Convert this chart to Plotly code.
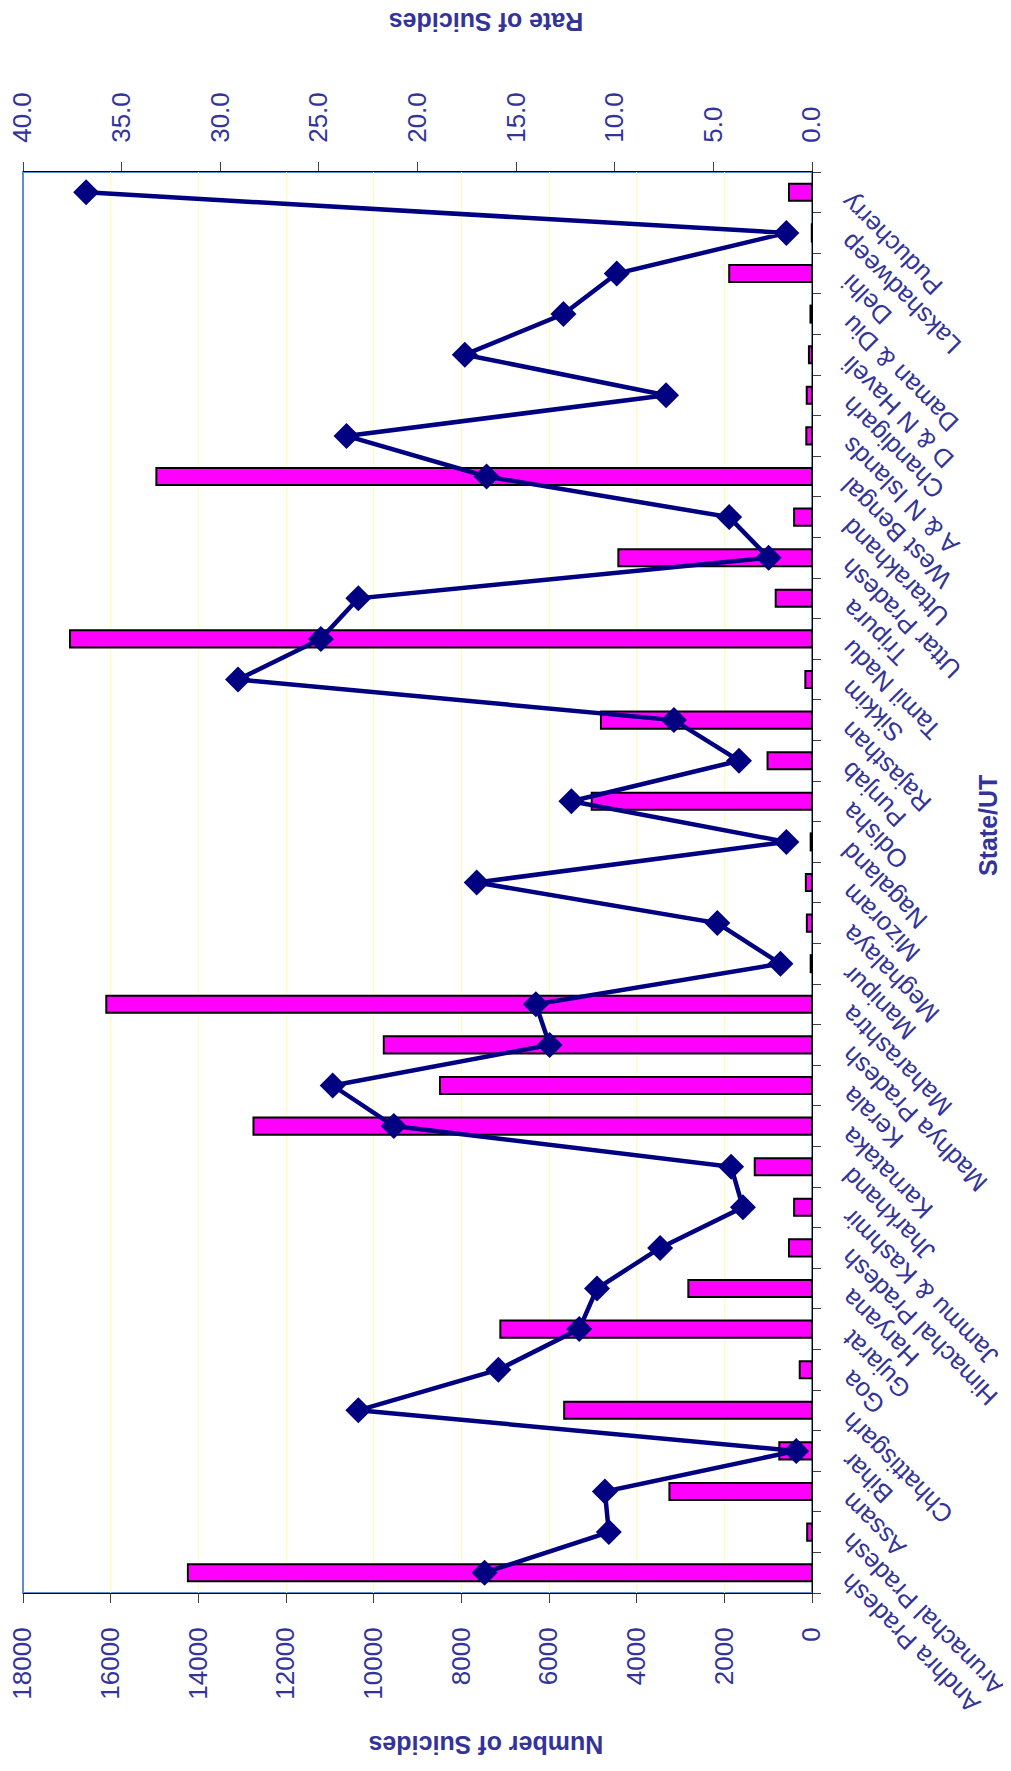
import plotly.graph_objects as go

states = ["Andhra Pradesh", "Arunachal Pradesh", "Assam", "Bihar", "Chhattisgarh", "Goa",
          "Gujarat", "Haryana", "Himachal Pradesh", "Jammu & Kashmir", "Jharkhand", "Karnataka",
          "Kerala", "Madhya Pradesh", "Maharashtra", "Manipur", "Meghalaya", "Mizoram",
          "Nagaland", "Odisha", "Punjab", "Rajasthan", "Sikkim", "Tamil Nadu", "Tripura",
          "Uttar Pradesh", "Uttarakhand", "West Bengal", "A & N Islands", "Chandigarh",
          "D & N Haveli", "Daman & Diu", "Delhi", "Lakshadweep", "Puducherry"]

num_suicides = [14238, 110, 3253, 746, 5654, 280,
                7110, 2821, 525, 408, 1306, 12742,
                8487, 9769, 16100, 30, 117, 140,
                30, 5025, 1014, 4815, 152, 16927, 828,
                4418, 408, 14957, 130, 120,
                70, 35, 1889, 5, 525]

rate_suicides = [16.6, 10.3, 10.5, 0.8, 23.0, 15.9,
                 11.8, 10.9, 7.7, 3.5, 4.1, 21.2,
                 24.3, 13.3, 14.0, 1.6, 4.8, 17.0,
                 1.3, 12.2, 3.7, 7.0, 29.1, 24.9, 23.0,
                 2.2, 4.2, 16.5, 23.6, 7.4,
                 17.6, 12.6, 9.9, 1.3, 36.8]

num_ticks = list(range(0, 18001, 2000))
rate_ticks = [0, 5, 10, 15, 20, 25, 30, 35, 40]

FONT = "Liberation Sans, Arial, sans-serif"
TXT = "#333399"

fig = go.Figure()
fig.add_trace(go.Bar(
    x=num_suicides, y=states, orientation="h",
    marker=dict(color="#FF00FF", line=dict(color="#000000", width=2)),
    xaxis="x", yaxis="y", name="Number of Suicides",
))
fig.add_trace(go.Scatter(
    x=rate_suicides, y=states, mode="lines+markers",
    line=dict(color="#000080", width=4.5),
    marker=dict(symbol="diamond", size=20, color="#000080"),
    xaxis="x2", yaxis="y", name="Rate of Suicides",
))

annotations = []
for s in states:
    annotations.append(dict(
        text=s, xref="paper", x=1, xshift=21, yref="y", y=s, yshift=7,
        xanchor="left", yanchor="top", textangle=-135, showarrow=False,
        font=dict(family=FONT, size=25.5, color=TXT),
    ))
annotations += [
    dict(text="<b>Number of Suicides</b>", xref="paper", x=0.587, yref="paper", y=-0.107,
         xanchor="center", yanchor="middle", textangle=180, showarrow=False,
         font=dict(family=FONT, size=25, color=TXT)),
    dict(text="<b>Rate of Suicides</b>", xref="paper", x=0.587, yref="paper", y=1.106,
         xanchor="center", yanchor="middle", textangle=180, showarrow=False,
         font=dict(family=FONT, size=25, color=TXT)),
    dict(text="<b>State/UT</b>", xref="paper", x=1.202, yref="paper", y=0.54,
         xanchor="left", yanchor="middle", textangle=-90, showarrow=False,
         font=dict(family=FONT, size=25, color=TXT)),
]

# the page body adds an 8px margin, so the figure is 8px smaller on each axis
fig.update_layout(
    width=1003, height=1763,
    margin=dict(l=15, r=199, t=164, b=178, autoexpand=False),
    paper_bgcolor="white", plot_bgcolor="white",
    showlegend=False, bargap=0.58,
    font=dict(family=FONT, color=TXT),
    xaxis=dict(
        range=[18000, 0], tickvals=num_ticks, tickformat="d", tickangle=-90,
        ticks="outside", ticklen=9, tickcolor="#404040", ticklabelstandoff=14,
        ticklabeloverflow="allow",
        showgrid=True, gridcolor="#FFFFA8", gridwidth=1, automargin=False,
        showline=True, linecolor="#000000", linewidth=1, zeroline=False,
        tickfont=dict(family=FONT, size=26, color=TXT), anchor="y",
    ),
    xaxis2=dict(
        range=[40, 0], tickvals=rate_ticks, tickformat=".1f", tickangle=-90,
        overlaying="x", side="top", anchor="y", automargin=False,
        ticks="outside", ticklen=9, tickcolor="#404040", ticklabelstandoff=14,
        ticklabeloverflow="allow",
        showgrid=False, showline=True, linecolor="#000000", linewidth=1, zeroline=False,
        tickfont=dict(family=FONT, size=26, color=TXT),
    ),
    yaxis=dict(
        type="category", categoryorder="array", categoryarray=states,
        range=[-0.5, len(states) - 0.5], side="right", automargin=False,
        showticklabels=False, ticks="outside", tickson="boundaries", ticklen=8,
        tickcolor="#404040", showline=True, linecolor="#000000", linewidth=1,
        showgrid=False, zeroline=False,
    ),
    shapes=[dict(type="rect", xref="paper", yref="paper", x0=0, x1=1, y0=0, y1=1,
                 line=dict(color="#5B8FD0", width=2), layer="below")],
    annotations=annotations,
)

fig.write_html("out.html")
